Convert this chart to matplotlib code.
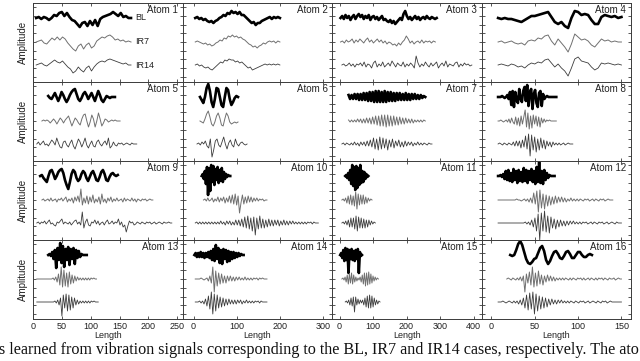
import numpy as np
import matplotlib
matplotlib.use('Agg')
import matplotlib.pyplot as plt

plt.rcParams['font.family'] = ['Liberation Sans', 'DejaVu Sans']

# amplitudes, in pixels (up = positive)
# each atom: BL, IR7, IR14 and the (start, end) length of each of them
a1_bl = [0,1,-1,1,0,-2,0,3,2,5,6,2,5,1,-2,-3,-6,-9,-5,-4,-8,-3,-7,-2,-8,-1,1,2,3,4,6,4,2,5,1,2,0,0]
a1_ir7 = [0,1,2,-1,-2,1,4,2,5,2,5,3,-1,-4,-7,-9,-4,-2,-7,-3,-1,-6,-4,1,3,5,4,6,7,5,2,3,1,2,0,1,0]
a1_ir14 = [0,1,2,0,-1,1,3,5,3,2,4,1,-2,-4,-8,-6,-2,-5,-7,-3,-1,-6,-2,1,3,4,3,5,6,5,4,3,2,1,2,0,0]
a1_len = [(5, 170), (5, 170), (5, 170)]

a2_bl = [0,1,-1,0,-2,-1,-3,-4,-3,-5,-3,-2,0,1,3,2,5,4,7,5,6,4,6,3,3,1,-1,-3,-5,-4,-7,-5,-5,-3,-2,-1,0,1,-1,1,0,1,0]
a2_ir7 = [0,1,0,-1,-2,-1,-3,-2,-4,-3,-1,0,2,1,4,3,6,5,7,5,6,4,5,3,2,0,-2,-3,-5,-4,-6,-4,-3,-1,-2,0,1,0,1,-1,1,0]
a2_ir14 = [0,1,-1,0,-2,-3,-2,-4,-5,-3,-1,1,3,2,5,4,6,5,5,3,4,2,3,1,-1,-3,-2,-5,-4,-3,-2,-1,0,1,0,1,0,1,0,1,0]
a2_len = [(4, 200), (4, 200), (4, 200)]

a3_bl = [0,2,-1,3,0,2,-2,1,3,-1,2,4,1,3,-1,2,0,3,-2,1,2,-1,1,-2,0,2,-2,-1,-3,-4,-2,-5,-3,-6,-4,-2,0,-2,4,7,2,-1,1,-2,0,2,-1,1,-2,0,1,-1,2,0,-1,1,0,-1,0]
a3_ir7 = [0,1,-1,2,0,1,3,-1,2,0,3,1,-1,2,4,0,2,-1,1,3,0,2,-1,1,-2,0,-1,-3,-2,-4,-1,-3,0,2,6,3,-1,1,-2,0,1,-1,2,-1,1,0,1,-1,1,0]
a3_ir14 = [0,1,-1,0,2,-1,1,-2,1,0,2,-1,3,-2,1,0,-3,2,4,-2,1,-1,3,-2,0,2,-1,4,1,-2,2,0,-1,3,-2,1,-1,2,0,-3,9,2,-2,1,-1,3,0,-2,2,-1,1,3,-3,0,2,-1,4,-2,1,0,-1,2,3,-2,1,-1,2,0,1,-1,0]
a3_len = [(3, 290), (3, 286), (7, 395)]

a4_bl = [0,-1,0,-1,-1,-2,-3,-4,-2,0,2,2,3,4,5,6,1,-4,-6,-4,-8,-10,0,7,6,3,4,3,-2,-6,-6,1,3,2,1,2,0,1]
a4_ir7 = [0,1,-1,0,1,-1,-2,-1,-3,1,2,1,4,3,6,7,1,-3,3,-1,-5,-10,-2,8,5,2,3,1,-3,-5,-1,3,1,2,0,1,0,0]
a4_ir14 = [0,1,0,-1,1,0,-2,-1,-3,0,2,1,3,2,5,6,2,-2,1,-3,-6,-11,-3,6,8,4,3,2,-2,-5,-3,2,1,2,1,0,1,0]
a4_len = [(8, 150), (8, 150), (8, 150)]

a5_bl = [1,-1,-2,1,4,0,-4,0,5,2,-2,-5,-2,2,5,7,8,3,-2,-4,-1,3,5,2,-2,1,4,0,-4,1,6,2,-3,-5,-2,1,0,-1,0,0,0]
a5_ir7 = [0,1,0,1,0,-2,0,2,0,-3,0,3,1,-2,1,3,5,0,-5,-1,3,1,-2,-4,2,6,7,0,-6,-1,6,2,-6,0,8,2,-5,-2,2,1,-1,0,1,0,1,0,0,0]
a5_ir14 = [0,2,-1,1,3,-1,0,-2,1,4,2,-1,6,1,-3,-4,2,3,-1,-3,1,4,-2,-5,0,5,2,-3,1,6,-1,-4,0,3,-2,-3,2,4,0,-2,1,3,-1,6,-4,-2,2,-1,-2,1,0,1,-1,0,1,0,-1,1,0,0,0]
a5_len = [(26, 142), (15, 151), (6, 180)]

a6_bl = [0,-3,-6,0,9,13,6,-5,-10,-2,9,8,0,-8,-10,0,9,7,-2,-8,-5,-1,1,0]
a6_ir7 = [0,-1,-2,2,7,10,4,-3,-5,-1,5,8,3,-4,-5,2,8,5,-1,-3,-2,-1,-2,-1]
a6_ir14 = [0,1,-1,2,0,3,-2,-4,5,-13,-6,3,5,-1,-3,2,7,0,-5,1,4,-1,-3,5,0,-2,1,2,0,-1,0]
a6_len = [(15, 103), (15, 103), (8, 124)]

a7_bl = [2,-2,2,-2,3,-2,3,-3,3,-3,4,-3,4,-4,5,-4,5,-5,6,-5,6,-5,5,-5,6,-5,5,-4,5,-4,4,-4,4,-3,4,-3,3,-3,4,-3,3,-3,3,-2,3,-2,2,-2,2,-1,1,0]
a7_ir7 = [1,-1,1,-1,1,-1,2,-1,2,-2,2,-2,3,-2,3,-3,4,-3,5,-4,5,-5,6,-5,6,-6,6,-5,5,-5,5,-4,4,-4,4,-3,3,-3,3,-2,2,-2,2,-2,1,-1,1,-1,1,-1,1,0]
a7_ir14 = [0,1,-1,1,0,-1,1,-1,2,-1,1,-2,2,-1,2,-2,3,-2,4,-3,6,-5,5,-6,7,-5,6,-4,5,-6,4,-3,5,-4,3,-2,4,-3,2,-3,3,-2,2,-1,2,-2,1,-1,2,-1,1,-1,1,0,-1,1,0,0]
a7_len = [(27, 256), (27, 256), (7, 276)]

a8_bl = [0,0,0,1,0,-1,0,2,-2,5,-8,6,-10,5,-3,-6,8,-2,-5,6,10,-4,12,-9,5,8,-12,3,7,-6,-10,4,6,-9,3,-2,0,1,0,0,0,0,0,0,0]
a8_ir7 = [0,0,1,0,-1,0,1,-1,2,-2,3,-1,-3,4,-4,3,-5,5,-3,4,11,-6,8,-8,5,-7,6,-3,5,-5,4,-6,3,-2,2,-1,1,0,1,0,0,0,0,0]
a8_ir14 = [0,1,0,-1,1,0,-1,1,0,-1,2,-2,3,-2,3,-4,4,-3,8,-5,10,-12,9,-6,7,-8,5,-6,6,-4,4,-5,3,-2,2,-3,2,-1,1,-1,1,-1,0,1,-1,0,1,0,0,0]
a8_len = [(8, 75), (8, 75), (8, 94)]

a9_bl = [0,1,-2,-4,-6,0,5,6,2,-3,0,4,6,7,3,-4,-9,-13,-6,2,6,4,-2,-5,-3,2,5,3,-2,-5,-1,3,5,1,-4,-5,-1,4,6,2,-4,-5,-1,2,3,1,0,1]
a9_ir7 = [0,1,-1,0,1,-1,2,-1,0,1,-2,1,0,2,-1,1,3,-2,1,-1,2,-3,3,-1,4,-2,11,-5,2,-3,4,-4,3,-2,5,-3,1,-2,3,-4,6,-2,1,-3,2,-1,3,-2,1,-1,2,-1,0,1,-2,2,-1,1,0,-1,2,-1,1,-2,1,0,-1,1,0,1,-1,0,1,0,0]
a9_ir14 = [0,1,-1,1,0,2,-1,1,3,-1,0,-2,-3,1,0,2,4,-1,1,0,-1,1,-2,0,2,3,-1,1,-2,11,-5,1,4,-2,-3,1,0,3,-1,2,-2,0,1,-2,1,3,-1,0,2,-1,1,0,4,-2,1,-4,-2,-9,-3,2,0,1,-2,-1,1,0,-1,1,0,-1,1,0,1,-1,0,1,-1,0,1,0,-1,1,0,0,1,0,0]
a9_len = [(12, 147), (15, 208), (6, 241)]

a10_bl = [0,2,-3,5,-8,9,-19,8,-15,11,-6,10,-9,7,-4,9,-7,6,-5,8,-6,4,-3,2,-1,1,0,0]
a10_ir7 = [0,1,-1,2,-1,0,2,-2,1,-1,3,-2,2,-1,3,-3,2,-2,4,-3,5,-4,6,-5,4,-13,-3,5,-4,3,-3,4,-2,3,-2,2,-1,2,-1,1,0,1,-1,0,0]
a10_ir14 = [0,1,-1,1,-1,1,-1,1,-1,1,-1,1,-1,1,-1,1,-1,2,-1,1,-2,2,-1,2,-2,1,-2,3,-2,3,-3,4,-4,6,-5,7,-6,5,-8,6,-12,5,-6,7,-5,4,-5,3,-4,4,-3,3,-3,3,-2,3,-3,2,-2,3,-2,2,-2,2,-1,2,-1,1,-1,1,-1,1,-1,1,-1,1,0,1,-1,1,0,0,0]
a10_len = [(19, 85), (23, 170), (4, 289)]

a11_bl = [0,1,-2,3,-4,6,-8,11,-10,9,-14,10,-12,8,-9,11,-7,5,-6,4,-3,2,-1,0]
a11_ir7 = [0,1,-1,2,-3,4,-4,5,-5,4,-6,8,-9,6,-5,5,-4,5,-4,3,-3,2,-1,1,0]
a11_ir14 = [0,1,-1,2,-2,3,-4,5,-4,5,-6,7,-8,6,-5,5,-5,4,-5,3,-4,3,-2,2,-1,1,0]
a11_len = [(17, 86), (7, 97), (7, 107)]

a12_bl = [0,0,1,-1,2,-3,5,-4,6,-5,3,-6,7,-4,5,-7,6,-5,4,-6,8,-5,6,-7,5,-4,7,-6,5,-8,9,-6,14,-7,5,-8,6,-4,3,-2,1,0,0,0,0]
a12_ir7 = [0,0,0,0,0,0,0,0,0,0,0,0,1,0,0,-1,0,1,-1,1,-2,2,-3,7,-4,9,-12,10,-8,6,-9,5,-6,4,-5,3,-4,4,-3,3,-2,3,-2,2,-2,1,-1,2,-1,1,-1,1,-1,1,0,-1,1,0,1,-1,0,1,-1,1,0,-1,1,0,1,-1,0,1,0,0,0]
a12_ir14 = [0,0,0,0,0,0,0,0,0,0,0,0,0,0,0,0,0,1,-1,1,-2,3,-4,5,-8,9,-17,10,-8,12,-9,7,-10,6,-5,4,-6,3,-4,3,-3,2,-3,2,-2,2,-1,2,-1,1,-1,1,-1,1,0,1,-1,0,1,-1,1,0,-1,1,0,1,-1,0,1,-1,0,1,0,-1,1,0,0,0]
a12_len = [(8, 73), (8, 140), (8, 150)]

a13_bl = [0,1,-1,3,-4,5,-13,7,-5,12,-8,9,-12,6,-5,8,-10,6,-4,7,-9,5,-3,4,-2,1,0,0,0,0]
a13_ir7 = [0,0,0,0,0,0,0,0,0,0,0,0,1,-1,2,-3,5,-6,12,-8,9,-7,6,-8,7,-5,4,-4,3,-2,2,-1,1,-1,1,-1,1,-1,1,-1,1,0,1,0,0]
a13_ir14 = [0,0,0,0,0,0,0,0,0,0,0,0,0,1,-1,2,-3,4,-14,7,-6,8,-9,7,-8,5,-6,4,-3,2,-2,1,-1,1,-1,1,-1,1,-1,1,0,1,0,0,0]
a13_len = [(26, 93), (6, 110), (6, 113)]

a14_bl = [0,2,-2,2,-2,3,-2,2,-3,2,-2,3,-3,4,-5,6,-6,10,-4,7,-8,5,-9,6,-4,5,-7,4,-6,3,-4,3,-3,2,-2,2,-1,1,0,0]
a14_ir7 = [0,0,0,0,1,0,-1,0,1,-2,3,-4,12,-13,8,-7,6,-5,5,-4,3,-4,3,-2,3,-2,2,-2,2,-1,2,-1,1,-1,2,-1,1,-1,1,-1,1,0,1,-1,1,0,1,0,0,0]
a14_ir14 = [0,0,0,1,-1,1,-2,3,-4,6,-7,10,-12,8,-9,7,-6,5,-5,4,-4,3,-3,3,-2,2,-2,2,-2,2,-1,2,-2,1,-1,2,-1,1,-1,1,-1,1,0,1,-1,1,0,0,0,0]
a14_len = [(2, 116), (4, 170), (4, 170)]

a15_bl = [0,2,-3,5,-6,7,-5,6,-18,5,-4,6,-5,4,-6,5,-4,6,-18,3,-1,0]
a15_ir7 = [0,1,-1,2,-3,4,-5,5,-4,6,-5,4,-3,2,-2,1,-1,2,-3,4,-5,6,-7,6,-6,7,-5,5,-4,3,-2,2,-1,1,0]
a15_ir14 = [0,1,-1,2,-3,4,-4,5,-10,5,-3,3,-2,2,-1,2,-3,4,-5,6,-6,7,-6,6,-5,4,-3,2,-2,1,0]
a15_len = [(2, 67), (7, 116), (17, 121)]

a16_bl = [0,-1,0,5,11,14,10,3,-4,-8,-9,-7,-4,-3,2,7,9,4,-5,-9,-6,-1,3,4,1,-3,-4,-1,3,4,1,-3,-3,0,3,3,0,-2,-2,0,1,0]
a16_ir7 = [0,1,0,-1,1,0,-1,1,-1,2,-2,3,-13,5,-4,7,-6,12,-8,6,-7,8,-5,4,-6,3,-3,4,-2,3,-2,2,-2,1,-1,1,-1,1,-1,1,0,-1,1,-1,1,0,-1,1,0,1,-1,1,-1,0,1,-1,1,0,-1,1,-1,1,0,1,-1,1,0,-1,1,0,0,1,-1,0,1,0,0]
a16_ir14 = [0,0,0,1,0,-1,0,1,0,-1,1,-1,1,-2,2,-3,4,-6,7,-8,9,-7,10,-12,8,-9,6,-7,5,-6,4,-5,3,-3,3,-2,2,-2,2,-1,2,-1,1,-1,1,-1,1,0,-1,1,0,-1,1,0,1,-1,0,1,-1,0,1,0,-1,1,0,-1,1,0,1,-1,0,1,0,0,0,0,0,0,0]
a16_len = [(22, 116), (18, 150), (8, 150)]

col_xlim = [(0, 260), (-25, 321), (-22, 424), (-11, 161)]
col_xticks = [[0, 50, 100, 150, 200, 250], [0, 100, 200, 300],
              [0, 100, 200, 300, 400], [0, 50, 100, 150]]
case_names = ['BL', 'IR7', 'IR14']
caption = ('s learned from vibration signals corresponding to the BL, IR7 and IR14 '
           'cases, respectively. The ato')

atoms = [
    (a1_bl, a1_ir7, a1_ir14, a1_len), (a2_bl, a2_ir7, a2_ir14, a2_len),
    (a3_bl, a3_ir7, a3_ir14, a3_len), (a4_bl, a4_ir7, a4_ir14, a4_len),
    (a5_bl, a5_ir7, a5_ir14, a5_len), (a6_bl, a6_ir7, a6_ir14, a6_len),
    (a7_bl, a7_ir7, a7_ir14, a7_len), (a8_bl, a8_ir7, a8_ir14, a8_len),
    (a9_bl, a9_ir7, a9_ir14, a9_len), (a10_bl, a10_ir7, a10_ir14, a10_len),
    (a11_bl, a11_ir7, a11_ir14, a11_len), (a12_bl, a12_ir7, a12_ir14, a12_len),
    (a13_bl, a13_ir7, a13_ir14, a13_len), (a14_bl, a14_ir7, a14_ir14, a14_len),
    (a15_bl, a15_ir7, a15_ir14, a15_len), (a16_bl, a16_ir7, a16_ir14, a16_len),
]

offsets = [-15, -39, -62]
styles = [dict(color='black', lw=1.9), dict(color='#707070', lw=0.7),
          dict(color='#3c3c3c', lw=0.6)]
edge = '#3a3a3a'

fig = plt.figure(figsize=(6.4, 3.61), dpi=100)
gs = fig.add_gridspec(4, 4, left=33.3/640, right=631/640, top=1-3/361,
                      bottom=1-319/361, wspace=0, hspace=0)

for i, (bl, ir7, ir14, lens) in enumerate(atoms):
    r, c = divmod(i, 4)
    ax = fig.add_subplot(gs[r, c])
    for vals, (s, e), off, st in zip([bl, ir7, ir14], lens, offsets, styles):
        x = np.linspace(s, e, len(vals))
        ax.plot(x, off + np.array(vals, dtype=float), solid_joinstyle='round', **st)
    ax.set_xlim(col_xlim[c])
    ax.set_ylim(-79, 0)
    ax.set_xticks(col_xticks[c])
    ax.set_yticks([-4.3 - 8.7*k for k in range(9)])
    ax.tick_params(direction='in', length=2.5, width=0.6, color=edge,
                   top=True, right=True, labelleft=False, labelsize=6.5,
                   labelcolor='#222222', pad=2)
    if r < 3:
        ax.tick_params(labelbottom=False)
    else:
        ax.set_xlabel('Length', fontsize=6.5, labelpad=0, color='#222222')
    for sp in ax.spines.values():
        sp.set_color(edge)
        sp.set_linewidth(0.7)
    ax.text(0.969, 0.91, 'Atom %d' % (i + 1), transform=ax.transAxes,
            ha='right', va='center', fontsize=7, color='#222222')
    if i == 0:
        for name, off in zip(case_names, offsets):
            ax.text(177, off, name, ha='left', va='center', fontsize=6.5,
                    color='#222222')
    if c == 0:
        yc = 1 - (3 + 79*r + 39.5)/361
        fig.text(23/640, yc, 'Amplitude', rotation=90, ha='center',
                 va='center', fontsize=7, color='#222222')

fig.text(-1/640, 1-354/361, caption, ha='left', va='baseline', fontsize=11.6,
         family=['Liberation Serif', 'DejaVu Serif'], color='#111111')

fig.savefig('out.png', dpi=100)
